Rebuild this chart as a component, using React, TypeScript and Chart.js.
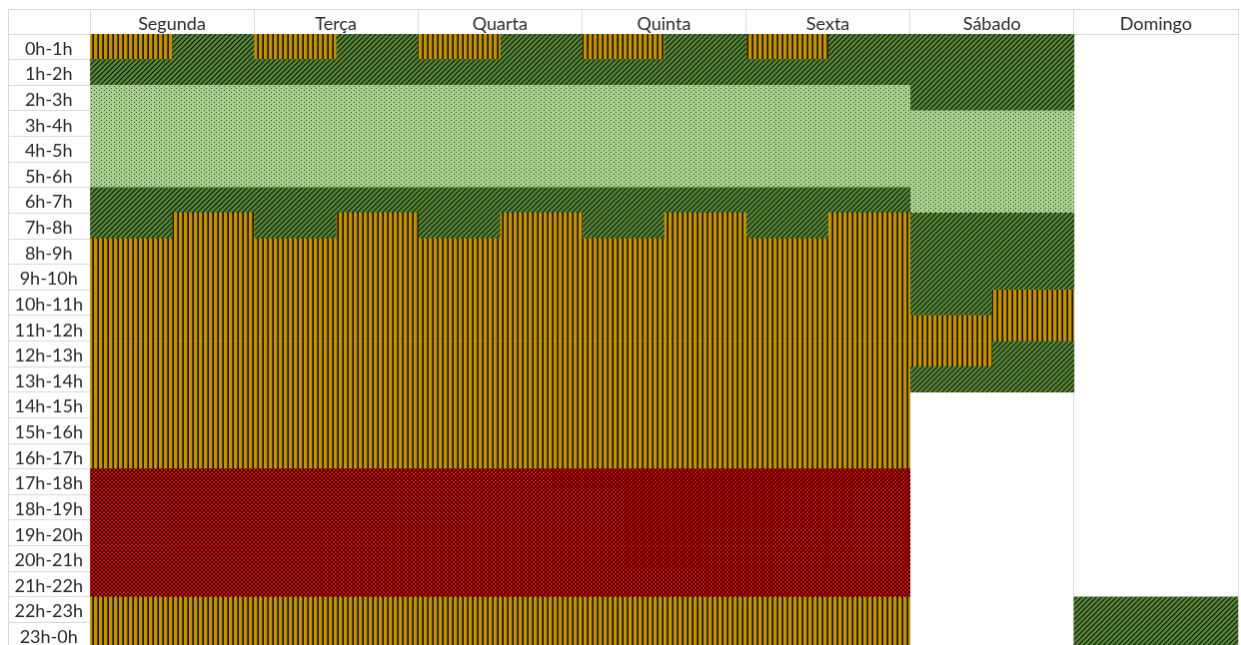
import React, { useEffect, useRef } from 'react';
import { Chart, registerables } from 'chart.js';

Chart.register(...registerables);

// Column headers (days) and row labels (hour slots)
const days = ['Segunda', 'Terça', 'Quarta', 'Quinta', 'Sexta', 'Sábado', 'Domingo'];
const hours = [
  '0h-1h', '1h-2h', '2h-3h', '3h-4h', '4h-5h', '5h-6h', '6h-7h', '7h-8h',
  '8h-9h', '9h-10h', '10h-11h', '11h-12h', '12h-13h', '13h-14h', '14h-15h', '15h-16h',
  '16h-17h', '17h-18h', '18h-19h', '19h-20h', '20h-21h', '21h-22h', '22h-23h', '23h-0h',
];

// Fill codes, one per hour row, for each half of a day column
// L = laranja (vertical stripes), V = verde (diagonal hatch), C = verde claro (dots), R = vermelho (checks), '' = vazio
const weekdayFirstHalf = ['L', 'V', 'C', 'C', 'C', 'C', 'V', 'V', 'L', 'L', 'L', 'L', 'L', 'L', 'L', 'L', 'L', 'R', 'R', 'R', 'R', 'R', 'L', 'L'];
const weekdaySecondHalf = ['V', 'V', 'C', 'C', 'C', 'C', 'V', 'L', 'L', 'L', 'L', 'L', 'L', 'L', 'L', 'L', 'L', 'R', 'R', 'R', 'R', 'R', 'L', 'L'];
const sabadoFirstHalf = ['V', 'V', 'V', 'C', 'C', 'C', 'C', 'V', 'V', 'V', 'V', 'L', 'L', 'V', '', '', '', '', '', '', '', '', '', ''];
const sabadoSecondHalf = ['V', 'V', 'V', 'C', 'C', 'C', 'C', 'V', 'V', 'V', 'L', 'L', 'V', 'V', '', '', '', '', '', '', '', '', '', ''];
const domingoFirstHalf = ['', '', '', '', '', '', '', '', '', '', '', '', '', '', '', '', '', '', '', '', '', '', 'V', 'V'];
const domingoSecondHalf = ['', '', '', '', '', '', '', '', '', '', '', '', '', '', '', '', '', '', '', '', '', '', 'V', 'V'];

const halfColumns = [
  weekdayFirstHalf, weekdaySecondHalf, // Segunda
  weekdayFirstHalf, weekdaySecondHalf, // Terça
  weekdayFirstHalf, weekdaySecondHalf, // Quarta
  weekdayFirstHalf, weekdaySecondHalf, // Quinta
  weekdayFirstHalf, weekdaySecondHalf, // Sexta
  sabadoFirstHalf, sabadoSecondHalf,
  domingoFirstHalf, domingoSecondHalf,
];

const FONT = 'Lato, "Noto Sans", sans-serif';
const GRID = '#d9d9d9';

function makePattern(w: number, h: number, pick: (x: number, y: number) => string) {
  const c = document.createElement('canvas');
  c.width = w;
  c.height = h;
  const g = c.getContext('2d')!;
  for (let y = 0; y < h; y++) {
    for (let x = 0; x < w; x++) {
      g.fillStyle = pick(x, y);
      g.fillRect(x, y, 1, 1);
    }
  }
  return g.createPattern(c, 'repeat')!;
}

function buildPatterns(): Record<string, CanvasPattern | string> {
  const stripes = makePattern(5, 1, (x) => (x < 3 ? '#c39200' : x === 3 ? '#5a4400' : '#161100'));
  const hatch = makePattern(5, 5, (x, y) => {
    const k = (x + y) % 5;
    return k === 0 ? '#0e1709' : k === 1 ? '#34511f' : '#568438';
  });
  const dots = makePattern(5, 4, (x, y) => ((x === 0 && y === 0) || (x === 2 && y === 2) ? '#2c3a22' : '#a9d08e'));
  const checks = makePattern(4, 4, (x, y) => ((Math.floor(x / 2) + Math.floor(y / 2)) % 2 === 0 ? '#f20000' : '#1a0000'));
  return { L: stripes, V: hatch, C: dots, R: checks };
}

export default function App() {
  const ref = useRef<HTMLCanvasElement | null>(null);

  useEffect(() => {
    if (!ref.current) return;
    const patterns = buildPatterns();
    const datasets = halfColumns.map((codes, col) => ({
      label: `${days[Math.floor(col / 2)]} ${col % 2 === 0 ? '1' : '2'}`,
      data: codes.map((code) => (code ? [col / 2, col / 2 + 0.5] : null)),
      backgroundColor: codes.map((code) => (code ? patterns[code] : 'transparent')),
      borderWidth: 0,
      grouped: false,
      barPercentage: 1,
      categoryPercentage: 1,
    }));

    const chart = new Chart(ref.current, {
      type: 'bar',
      data: { labels: hours, datasets: datasets as any },
      options: {
        indexAxis: 'y',
        responsive: false,
        animation: false,
        events: [],
        layout: { padding: { left: 0, top: 0, right: 1, bottom: 0 } },
        plugins: { legend: { display: false }, tooltip: { enabled: false } },
        scales: {
          x: {
            type: 'linear',
            position: 'top',
            min: 0,
            max: 7,
            afterFit: (s: any) => { s.height = 24; },
            grid: { color: GRID, tickLength: 24, drawOnChartArea: true },
            border: { color: GRID },
            ticks: {
              stepSize: 1,
              autoSkip: false,
              labelOffset: 82,
              padding: -25,
              color: '#2b2b2b',
              font: { family: FONT, size: 18 },
              callback: (v: any) => days[v] ?? '',
            },
          },
          y: {
            type: 'category',
            position: 'left',
            afterFit: (s: any) => { s.width = 81; },
            grid: { color: GRID, tickLength: 81, drawOnChartArea: false, offset: true },
            border: { color: GRID },
            ticks: {
              crossAlign: 'center',
              padding: -74,
              labelOffset: 2,
              autoSkip: false,
              color: '#2b2b2b',
              font: { family: FONT, size: 18 },
            },
          },
        },
      },
    });
    return () => chart.destroy();
  }, []);

  return (
    <div style={{ position: 'fixed', left: 8, top: 9, width: 1233, height: 640, background: '#fff' }}>
      <canvas
        ref={ref}
        width={1231}
        height={639}
        style={{ display: 'block', borderLeft: `1px solid ${GRID}`, borderTop: `1px solid ${GRID}` }}
      />
    </div>
  );
}
